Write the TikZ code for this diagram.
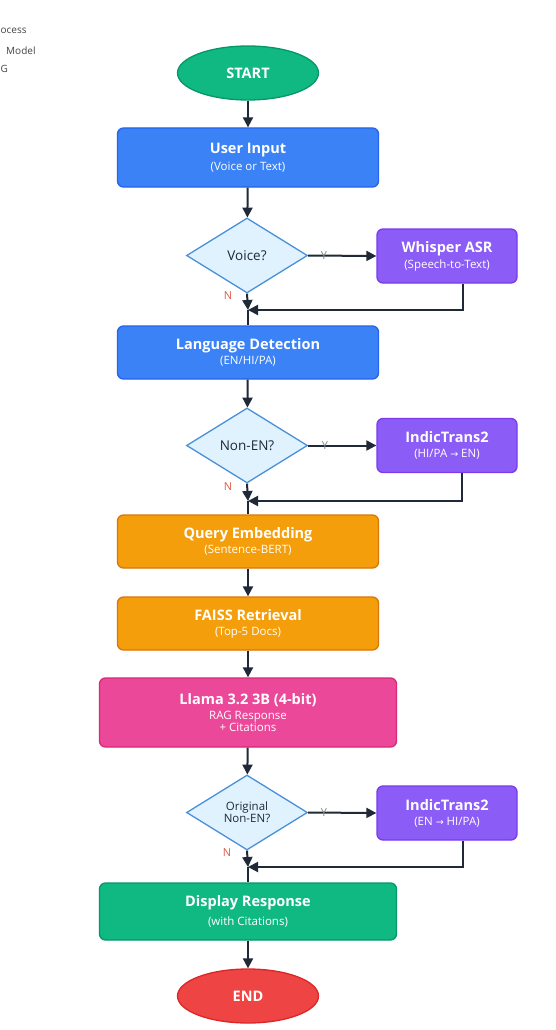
\documentclass[tikz,border=0pt]{standalone}
\usepackage{fontspec}
\setmainfont{Open Sans}
\newfontfamily\dejavu{DejaVu Sans}
\usetikzlibrary{shapes.geometric,arrows.meta,calc}
\definecolor{cblue}{HTML}{3B82F6}
\definecolor{cblueb}{HTML}{2563EB}
\definecolor{cpurple}{HTML}{8B5CF6}
\definecolor{cpurpleb}{HTML}{7C3AED}
\definecolor{corange}{HTML}{F59E0B}
\definecolor{corangeb}{HTML}{D97706}
\definecolor{cpink}{HTML}{EC4899}
\definecolor{cpinkb}{HTML}{DB2777}
\definecolor{cgreen}{HTML}{10B981}
\definecolor{cgreenb}{HTML}{059669}
\definecolor{cred}{HTML}{EF4444}
\definecolor{credb}{HTML}{DC2626}
\definecolor{cdiam}{HTML}{E0F2FE}
\definecolor{cdiamb}{HTML}{4A90D9}
\definecolor{cline}{HTML}{1F2937}
\definecolor{cylab}{HTML}{7A8A7A}
\definecolor{cnlab}{HTML}{E05A4A}
\definecolor{clegend}{HTML}{444444}
\newcommand{\ttl}[1]{{\bfseries\fontsize{14.5}{17}\selectfont #1}}
\newcommand{\sbt}[1]{{\fontsize{11.5}{14}\selectfont #1}}
\newcommand{\rarr}{{\dejavu\fontsize{9.5}{11}\selectfont →}}
\tikzset{
  box/.style={rectangle, rounded corners=6pt, line width=1.3pt, text=white, align=center, inner sep=0pt},
  bluebox/.style={box, fill=cblue, draw=cblueb, minimum width=261pt},
  purplebox/.style={box, fill=cpurple, draw=cpurpleb, minimum width=140pt, minimum height=54pt},
  orangebox/.style={box, fill=corange, draw=corangeb, minimum width=261pt, minimum height=53pt},
  pinkbox/.style={box, fill=cpink, draw=cpinkb, minimum width=297pt},
  greenbox/.style={box, fill=cgreen, draw=cgreenb, minimum width=297pt},
  term/.style={ellipse, line width=1.3pt, text=white, minimum width=141pt, minimum height=54pt, inner sep=0pt, font=\bfseries\fontsize{14.5}{17}\selectfont},
  decision/.style={diamond, fill=cdiam, draw=cdiamb, line width=1.3pt, text=cline, minimum width=121pt, minimum height=75pt, inner sep=0pt, align=center},
  arr/.style={draw=cline, line width=2pt, -{Triangle[length=10pt,width=10pt]}},
  ln/.style={draw=cline, line width=2pt},
  ylab/.style={text=cylab, font=\fontsize{11}{13}\selectfont, inner sep=0pt},
  nlab/.style={text=cnlab, font=\fontsize{11}{13}\selectfont, inner sep=0pt},
  legend/.style={text=clegend, font=\fontsize{10}{12}\selectfont, anchor=west, inner sep=0pt}
}
\begin{document}
\begin{tikzpicture}[x=1pt,y=-1pt]
\useasboundingbox[fill=white] (0,0) rectangle (556,1030);
% cropped legend texts (as visible)
\node[legend] (lg1) at (0.5,31) {ocess};
\node[legend] (lg2) at (6,51) {Model};
\node[legend] (lg3) at (0.5,69) {G};
% nodes
\node[term, fill=cgreen, draw=cgreenb] (start) at (248,73) {START};
\node[bluebox, minimum height=59pt] (user) at (248,157.5) {\ttl{User Input}\\[5pt]\sbt{(Voice or Text)}};
\node[decision] (voice) at (247,255.5) {\fontsize{13.5}{16}\selectfont Voice?};
\node[purplebox] (whisper) at (447,256) {\ttl{Whisper ASR}\\[3pt]\sbt{(Speech-to-Text)}};
\node[bluebox, minimum height=53pt] (lang) at (248,352.5) {\ttl{Language Detection}\\[3pt]\sbt{(EN/HI/PA)}};
\node[decision] (nonen) at (247,445.5) {\fontsize{13.5}{16}\selectfont Non-EN?};
\node[purplebox] (indic1) at (447,445.5) {\ttl{IndicTrans2}\\[3pt]\sbt{(HI/PA \rarr{} EN)}};
\node[orangebox] (query) at (248,541.5) {\ttl{Query Embedding}\\[3pt]\sbt{(Sentence-BERT)}};
\node[orangebox] (faiss) at (248,623.5) {\ttl{FAISS Retrieval}\\[3pt]\sbt{(Top-5 Docs)}};
\node[pinkbox, minimum height=69pt] (llama) at (248,712.5) {\ttl{Llama 3.2 3B (4-bit)}\\[3pt]\sbt{RAG Response}\\[0pt]\sbt{+ Citations}};
\node[decision] (orig) at (247,812.5) {\fontsize{11.5}{14}\selectfont Original\\\fontsize{11.5}{14}\selectfont Non-EN?};
\node[purplebox] (indic2) at (447,813) {\ttl{IndicTrans2}\\[3pt]\sbt{(EN \rarr{} HI/PA)}};
\node[greenbox, minimum height=57pt] (display) at (248,911.5) {\ttl{Display Response}\\[5pt]\sbt{(with Citations)}};
\node[term, fill=cred, draw=credb] (end) at (248,996) {END};
% merge points
\coordinate (m1) at (248,310);
\coordinate (m2) at (248,501);
\coordinate (m3) at (248,867);
% connectors
\draw[arr] (start) -- (user);
\draw[arr] (user) -- (voice);
\draw[arr] (voice.east) -- (whisper.west);
\draw[arr] (voice.south) -- (m1);
\draw[arr] ([xshift=-55pt]whisper.south east) |- (m1);
\draw[ln] (m1) -- (lang.north);
\draw[arr] (lang) -- (nonen);
\draw[arr] (nonen.east) -- (indic1.west);
\draw[arr] (nonen.south) -- (m2);
\draw[arr] ([xshift=-56pt]indic1.south east) |- (m2);
\draw[ln] (m2) -- (query.north);
\draw[arr] (query) -- (faiss);
\draw[arr] (faiss) -- (llama);
\draw[arr] (llama) -- (orig);
\draw[arr] (orig.east) -- (indic2.west);
\draw[arr] (orig.south) -- (m3);
\draw[arr] ([xshift=-55pt]indic2.south east) |- (m3);
\draw[ln] (m3) -- (display.north);
\draw[arr] (display) -- (end);
% labels
\node[ylab] (y1) at (324,255.5) {Y};
\node[nlab] (n1) at (228,296) {N};
\node[ylab] (y2) at (325,445.5) {Y};
\node[nlab] (n2) at (228,487) {N};
\node[ylab] (y3) at (324,812.5) {Y};
\node[nlab] (n3) at (227,853) {N};
\end{tikzpicture}
\end{document}
